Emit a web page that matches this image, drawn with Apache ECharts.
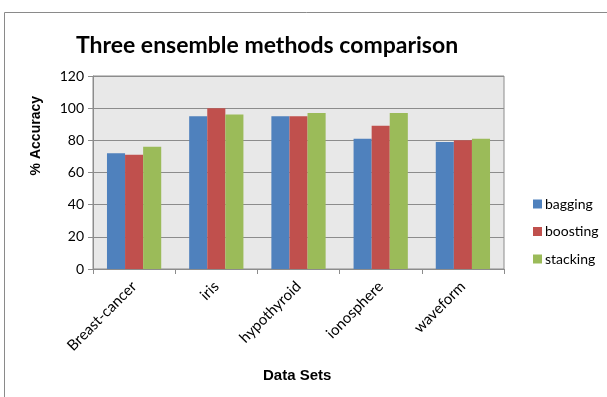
<!DOCTYPE html>
<html>
<head>
<meta charset="utf-8">
<script src="https://cdn.jsdelivr.net/npm/echarts@6/dist/echarts.min.js"></script>
<style>
  html, body { margin: 0; padding: 0; background: #fff; }
  #chart { width: 607px; height: 397px; }
</style>
</head>
<body>
<div id="chart"></div>
<script>
// Accuracy (%) of three ensemble methods on five data sets
const dataSets = ['Breast-cancer', 'iris', 'hypothyroid', 'ionosphere', 'waveform'];
const bagging  = [72, 95, 95, 81, 79];
const boosting = [71, 100, 95, 89, 80];
const stacking = [76, 96, 97, 97, 81];
const yTicks = { min: 0, max: 120, step: 20 };

const FONT = 'Lato, "Open Sans", sans-serif';
const BOLD = '"Liberation Sans", Arial, sans-serif';
const chart = echarts.init(document.getElementById('chart'), null, { renderer: 'canvas' });

chart.setOption({
  animation: false,
  backgroundColor: '#fff',
  textStyle: { fontFamily: FONT },
  title: {
    text: 'Three ensemble methods comparison',
    left: 262, top: 29, textAlign: 'center',
    textStyle: { fontFamily: FONT, fontSize: 23, fontWeight: 'bold', color: '#000' }
  },
  graphic: [
    { type: 'rect', silent: true, z: -10,
      shape: { x: 4.5, y: 12.5, width: 640, height: 420 },
      style: { fill: 'none', stroke: '#8a8a8a', lineWidth: 1 } },
    { type: 'text', left: 29, top: 96, rotation: Math.PI / 2,
      style: { text: '% Accuracy', font: 'bold 14px ' + BOLD, fill: '#000' } },
    { type: 'text', left: 263, top: 368,
      style: { text: 'Data Sets', font: 'bold 15px ' + BOLD, fill: '#000' } }
  ],
  grid: { left: 93, top: 76, width: 411, height: 193, show: true,
          backgroundColor: '#e8e8e8', borderColor: '#8c8c8c', borderWidth: 1 },
  legend: {
    orient: 'vertical', left: 528, top: 192,
    itemWidth: 9, itemHeight: 9, itemGap: 13.5, icon: 'rect',
    textStyle: { fontFamily: FONT, fontSize: 14, lineHeight: 14, color: '#000', padding: [0, 0, 0, -2] },
    data: ['bagging', 'boosting', 'stacking']
  },
  xAxis: {
    type: 'category', data: dataSets,
    axisLine: { lineStyle: { color: '#8c8c8c' } },
    axisTick: { show: true, length: 5, alignWithLabel: false, lineStyle: { color: '#8c8c8c' } },
    axisLabel: { rotate: 45, margin: 15, fontSize: 15, color: '#000', interval: 0, fontFamily: FONT }
  },
  yAxis: {
    type: 'value', min: yTicks.min, max: yTicks.max, interval: yTicks.step,
    axisLine: { show: true, lineStyle: { color: '#8c8c8c' } },
    axisTick: { show: true, length: 5, lineStyle: { color: '#8c8c8c' } },
    axisLabel: { fontSize: 14, color: '#000', margin: 9, fontFamily: FONT },
    splitLine: { lineStyle: { color: '#8c8c8c', width: 1 } }
  },
  series: [
    { name: 'bagging', type: 'bar', data: bagging, barGap: 0, barCategoryGap: '34%',
      itemStyle: { color: '#4f81bd' } },
    { name: 'boosting', type: 'bar', data: boosting, barGap: 0, barCategoryGap: '34%',
      itemStyle: { color: '#c0504d' } },
    { name: 'stacking', type: 'bar', data: stacking, barGap: 0, barCategoryGap: '34%',
      itemStyle: { color: '#9bbb59' } }
  ]
});
</script>
</body>
</html>
